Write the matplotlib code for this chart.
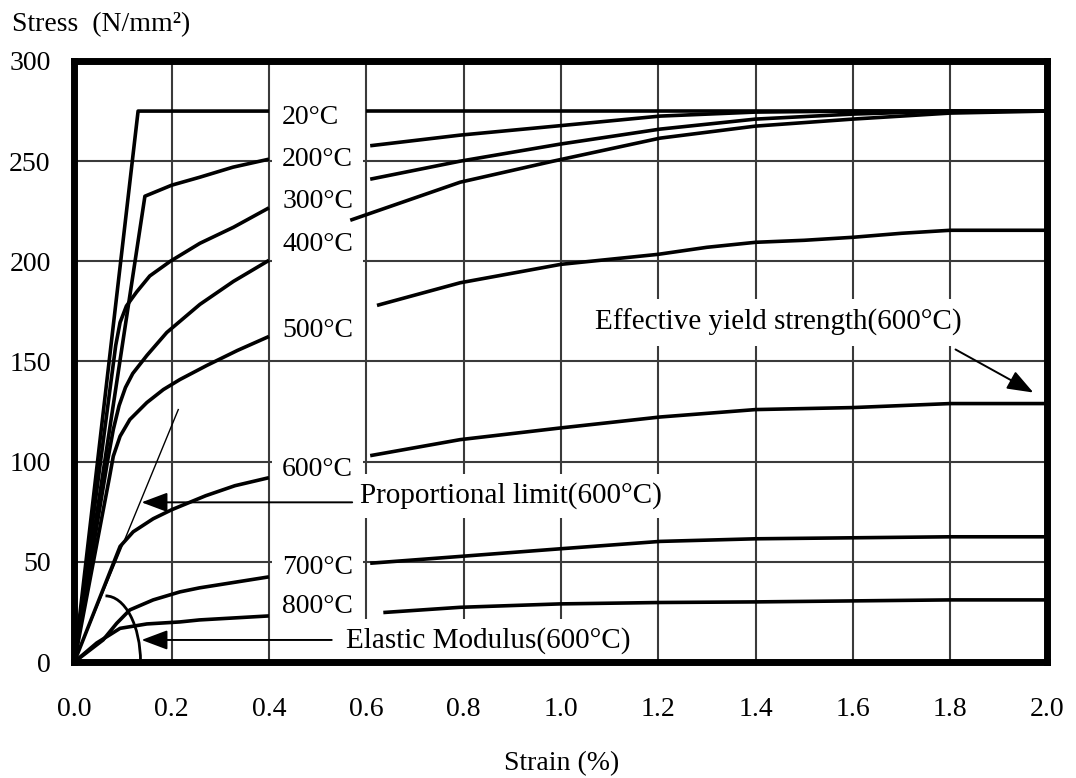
import matplotlib
matplotlib.use("Agg")
import matplotlib.pyplot as plt
from matplotlib.patches import Arc

plt.rcParams['font.family'] = ['Liberation Serif', 'DejaVu Serif']

# ---------------- data (strain %, stress N/mm2) ----------------
temps = ["20°C", "200°C", "300°C", "400°C", "500°C", "600°C", "700°C", "800°C"]

# left parts (0 - 0.4 %)
left_x = {
    "20°C":  [0.0, 0.131, 0.4],
    "200°C": [0.0, 0.145, 0.2, 0.258, 0.326, 0.4],
    "300°C": [0.0, 0.085, 0.094, 0.107, 0.128, 0.155, 0.197, 0.258, 0.327, 0.4],
    "400°C": [0.0, 0.068, 0.080, 0.092, 0.105, 0.120, 0.149, 0.190, 0.258, 0.327, 0.4],
    "500°C": [0.0, 0.072, 0.080, 0.094, 0.114, 0.149, 0.183, 0.217, 0.272, 0.335, 0.4],
    "600°C": [0.0, 0.094, 0.121, 0.162, 0.200, 0.270, 0.330, 0.4],
    "700°C": [0.0, 0.059, 0.087, 0.114, 0.162, 0.217, 0.257, 0.4],
    "800°C": [0.0, 0.046, 0.094, 0.149, 0.217, 0.257, 0.4],
}
left_y = {
    "20°C":  [0.0, 275.0, 275.0],
    "200°C": [0.0, 232.5, 238.0, 242.0, 247.0, 251.0],
    "300°C": [0.0, 158.0, 169.5, 177.7, 184.7, 192.7, 200.0, 209.0, 217.0, 226.7],
    "400°C": [0.0, 100.0, 116.0, 128.0, 137.0, 144.0, 153.0, 164.5, 178.5, 190.0, 200.5],
    "500°C": [0.0, 92.0, 102.7, 112.7, 121.0, 129.5, 136.0, 141.0, 148.0, 155.5, 162.5],
    "600°C": [0.0, 57.7, 65.0, 71.5, 76.0, 83.0, 88.0, 92.0],
    "700°C": [0.0, 11.0, 19.3, 26.0, 31.0, 35.0, 37.0, 42.5],
    "800°C": [0.0, 9.5, 16.8, 19.0, 20.0, 21.0, 23.0],
}

# right parts (0.6 - 2.0 %)
right_x = {
    "20°C":  [0.6, 2.0],
    "200°C": [0.608, 0.793, 0.998, 1.204, 1.4, 1.6, 2.0],
    "300°C": [0.608, 0.793, 0.998, 1.204, 1.4, 1.6, 1.8, 2.0],
    "400°C": [0.567, 0.793, 0.984, 1.204, 1.4, 1.6, 1.8, 2.0],
    "500°C": [0.622, 0.793, 1.0, 1.1, 1.2, 1.3, 1.4, 1.5, 1.6, 1.7, 1.8, 2.0],
    "600°C": [0.608, 0.793, 0.998, 1.204, 1.4, 1.6, 1.8, 2.0],
    "700°C": [0.608, 0.793, 0.998, 1.204, 1.4, 1.6, 1.8, 2.0],
    "800°C": [0.635, 0.793, 0.998, 1.204, 1.4, 1.6, 1.8, 2.0],
}
right_y = {
    "20°C":  [275.0, 275.0],
    "200°C": [257.7, 263.0, 267.7, 272.5, 274.5, 275.0, 275.0],
    "300°C": [241.0, 250.0, 258.5, 266.0, 271.0, 273.5, 275.0, 275.0],
    "400°C": [220.5, 239.5, 250.0, 261.5, 267.5, 271.0, 274.0, 275.0],
    "500°C": [178.0, 189.3, 198.5, 201.0, 203.5, 207.0, 209.5, 210.5, 212.0, 214.0, 215.5, 215.5],
    "600°C": [103.0, 111.0, 116.8, 122.3, 126.0, 127.0, 129.0, 129.0],
    "700°C": [49.3, 52.7, 56.5, 60.2, 61.5, 62.0, 62.5, 62.5],
    "800°C": [24.7, 27.3, 29.0, 29.7, 30.0, 30.5, 31.0, 31.0],
}

# label positions (stress) for temperature labels
label_y = [272.0, 251.0, 230.0, 208.5, 165.5, 96.0, 47.0, 27.5]

# 600°C elastic-modulus line
em_x = [0.0, 0.2136]
em_y = [0.0, 126.0]

xticks = [0.0, 0.2, 0.4, 0.6, 0.8, 1.0, 1.2, 1.4, 1.6, 1.8, 2.0]
yticks = [0, 50, 100, 150, 200, 250, 300]

# ---------------- figure ----------------
fig = plt.figure(figsize=(10.76, 7.78), dpi=100)
ax = fig.add_axes([0.0691, 0.1491, 0.9044, 0.7725])
ax.set_xlim(0, 2.0)
ax.set_ylim(0, 300)
ax.set_xticks(xticks)
ax.set_yticks(yticks)
ax.set_xticklabels([f"{v:.1f}" for v in xticks])
ax.set_yticklabels([str(v) for v in yticks])
ax.tick_params(axis='both', length=0, labelsize=20, colors='black')
ax.tick_params(axis='y', pad=17)
ax.tick_params(axis='x', pad=25)
ax.grid(True, color='#3a3a3a', linewidth=1.5, zorder=1)
ax.set_axisbelow(True)
for s in ax.spines.values():
    s.set_linewidth(5)
    s.set_color('black')
    s.set_zorder(10)

lw = 2.6
for t in temps:
    ax.plot(left_x[t], left_y[t], color='black', lw=lw, zorder=5,
            solid_joinstyle='round', solid_capstyle='butt')
    ax.plot(right_x[t], right_y[t], color='black', lw=lw, zorder=5,
            solid_joinstyle='round', solid_capstyle='butt')

for t, yl in zip(temps, label_y):
    ax.text(0.427, yl, t, fontsize=20, ha='left', va='center', zorder=3,
            bbox=dict(boxstyle='square,pad=0.36', fc='white', ec='none'))

# elastic modulus line (thin)
ax.plot(em_x, em_y, color='black', lw=1.0, zorder=5)

# arc marking elastic modulus
ax.add_patch(Arc((0.064, 0), width=2 * 0.072, height=2 * 33, theta1=0, theta2=90,
                 color='black', lw=2.0, zorder=5))

arrow_kw = dict(arrowstyle='-|>,head_length=0.8,head_width=0.3', mutation_scale=20,
                color='black', lw=1.4, shrinkA=0, shrinkB=0)

# Proportional limit
ax.text(0.587, 83.0, "Proportional limit(600°C)", fontsize=21, ha='left', va='center',
        zorder=3, bbox=dict(boxstyle='square,pad=0.3', fc='white', ec='none'))
ax.annotate('', xy=(0.138, 79.7), xytext=(0.571, 79.7), arrowprops=arrow_kw, zorder=6)

# Elastic modulus
ax.text(0.558, 10.5, "Elastic Modulus(600°C)", fontsize=21, ha='left', va='center',
        zorder=3, bbox=dict(boxstyle='square,pad=0.3', fc='white', ec='none'))
ax.annotate('', xy=(0.138, 11.0), xytext=(0.529, 11.0), arrowprops=arrow_kw, zorder=6)

# Effective yield strength
ax.text(1.07, 169.5, "Effective yield strength(600°C)", fontsize=21, ha='left', va='center',
        zorder=3, bbox=dict(boxstyle='square,pad=0.33', fc='white', ec='none'))
ax.annotate('', xy=(1.971, 134.5), xytext=(1.811, 156.0), arrowprops=arrow_kw, zorder=6)

# axis titles
fig.text(0.011, 0.969, "Stress  (N/mm²)", fontsize=20, ha='left', va='center')
fig.text(0.522, 0.019, "Strain (%)", fontsize=20, ha='center', va='center')

fig.savefig("out.png", dpi=100)
